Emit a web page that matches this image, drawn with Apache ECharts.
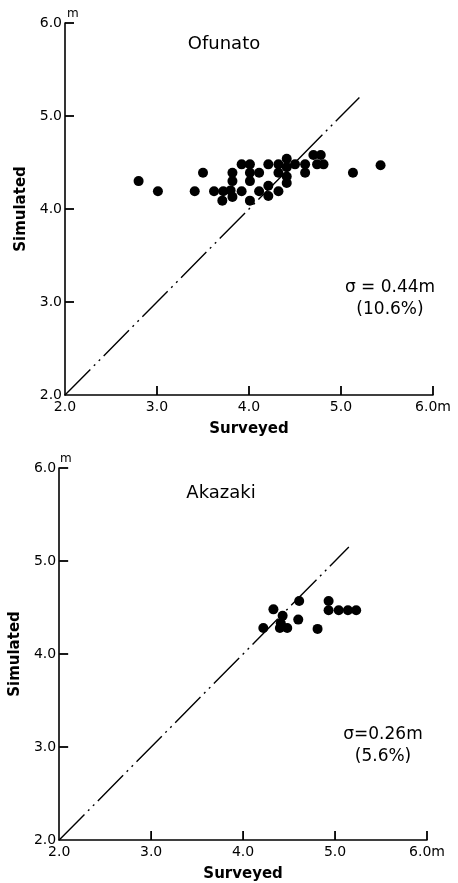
<!DOCTYPE html>
<html>
<head>
<meta charset="utf-8">
<script src="https://cdn.jsdelivr.net/npm/echarts@6/dist/echarts.min.js"></script>
<style>
  html, body { margin: 0; padding: 0; background: #fff; }
  #chart { width: 458px; height: 883px; }
</style>
</head>
<body>
<div id="chart"></div>
<script>
// 刻度
const axisTicks = [2, 3, 4, 5, 6];
const tickPx = 9; // 内刻度长度（像素）

// Ofunato  [surveyed, simulated]
const ofunatoPoints = [
  [2.80, 4.30], [3.01, 4.19], [3.41, 4.19], [3.50, 4.39], [3.62, 4.19],
  [3.71, 4.09], [3.72, 4.19], [3.82, 4.39], [3.82, 4.30], [3.80, 4.20],
  [3.82, 4.13], [3.92, 4.19], [3.92, 4.48], [4.01, 4.48], [4.01, 4.39],
  [4.01, 4.30], [4.01, 4.09], [4.11, 4.39], [4.11, 4.19], [4.21, 4.48],
  [4.21, 4.25], [4.21, 4.14], [4.32, 4.48], [4.32, 4.39], [4.32, 4.19],
  [4.41, 4.54], [4.41, 4.45], [4.41, 4.35], [4.41, 4.28], [4.50, 4.48],
  [4.61, 4.48], [4.61, 4.39], [4.70, 4.58], [4.78, 4.58], [4.74, 4.48],
  [4.81, 4.48], [5.13, 4.39], [5.43, 4.47]
];

// Akazaki
const akazakiPoints = [
  [4.22, 4.28], [4.33, 4.48], [4.43, 4.41], [4.41, 4.33], [4.40, 4.28],
  [4.48, 4.28], [4.61, 4.57], [4.60, 4.37], [4.81, 4.27], [4.93, 4.57],
  [4.93, 4.47], [5.04, 4.47], [5.14, 4.47], [5.23, 4.47]
];

// 1:1 线
const ofunatoLine = [[2, 2], [5.2, 5.2]];
const akazakiLine = [[2, 2], [5.15, 5.15]];

const font = 'DejaVu Sans';
const dashDotDot = [36, 5, 2, 5, 2, 5];

function xAxisOf(idx) {
  return {
    gridIndex: idx, type: 'value', min: 2, max: 6, interval: 1,
    name: 'Surveyed', nameLocation: 'middle', nameGap: 27,
    nameTextStyle: { fontFamily: font, fontSize: 15, fontWeight: 'bold', color: '#000' },
    axisLine: { show: true, lineStyle: { color: '#000', width: 1.6 } },
    axisTick: { show: false },
    axisLabel: {
      color: '#000', fontFamily: font, fontSize: 14, margin: 5,
      formatter: v => v === 6 ? '6.0m' : v.toFixed(1)
    },
    splitLine: { show: false }
  };
}
function yAxisOf(idx) {
  return {
    gridIndex: idx, type: 'value', min: 2, max: 6, interval: 1,
    name: 'Simulated', nameLocation: 'middle', nameGap: 34,
    nameTextStyle: { fontFamily: font, fontSize: 15, fontWeight: 'bold', color: '#000' },
    axisLine: { show: true, lineStyle: { color: '#000', width: 1.6 } },
    axisTick: { show: false },
    axisLabel: {
      color: '#000', fontFamily: font, fontSize: 14, margin: 3,
      formatter: v => v.toFixed(1)
    },
    splitLine: { show: false }
  };
}

// 朝内的刻度线：custom 系列，位置由坐标轴换算
const tickData = [];
axisTicks.slice(1).forEach(t => {
  tickData.push([t, axisTicks[0], 0]); // x 轴刻度
  tickData.push([axisTicks[0], t, 1]); // y 轴刻度
});
function tickSeries(idx) {
  return {
    type: 'custom', xAxisIndex: idx, yAxisIndex: idx, data: tickData,
    silent: true, clip: false, z: 10,
    renderItem: (params, api) => {
      const p = api.coord([api.value(0), api.value(1)]);
      const vertical = api.value(2) === 0;
      return {
        type: 'line',
        shape: vertical
          ? { x1: p[0], y1: p[1], x2: p[0], y2: p[1] - tickPx }
          : { x1: p[0], y1: p[1], x2: p[0] + tickPx, y2: p[1] },
        style: { stroke: '#000', lineWidth: 1.8 }
      };
    }
  };
}

const chart = echarts.init(document.getElementById('chart'));
chart.setOption({
  backgroundColor: '#fff',
  animation: false,
  title: [
    { text: 'Ofunato', left: 219, top: 30, textAlign: 'center',
      textStyle: { fontFamily: font, fontSize: 18, fontWeight: 'normal', color: '#000' } },
    { text: 'Akazaki', left: 216, top: 479, textAlign: 'center',
      textStyle: { fontFamily: font, fontSize: 18, fontWeight: 'normal', color: '#000' } },
    { text: 'σ = 0.44m\n(10.6%)', left: 385, top: 272, textAlign: 'center',
      textStyle: { fontFamily: font, fontSize: 17, fontWeight: 'normal', color: '#000', lineHeight: 22 } },
    { text: 'σ=0.26m\n(5.6%)', left: 378, top: 719, textAlign: 'center',
      textStyle: { fontFamily: font, fontSize: 17, fontWeight: 'normal', color: '#000', lineHeight: 22 } },
    { text: 'm', left: 62, top: 3,
      textStyle: { fontFamily: font, fontSize: 12, fontWeight: 'normal', color: '#000' } },
    { text: 'm', left: 55, top: 448,
      textStyle: { fontFamily: font, fontSize: 12, fontWeight: 'normal', color: '#000' } }
  ],
  grid: [
    { left: 65, top: 23, width: 368, height: 372 },
    { left: 58, top: 468, width: 369, height: 372 }
  ],
  xAxis: [xAxisOf(0), xAxisOf(1)],
  yAxis: [yAxisOf(0), yAxisOf(1)],
  series: [
    { type: 'line', xAxisIndex: 0, yAxisIndex: 0, data: ofunatoLine, showSymbol: false,
      lineStyle: { color: '#000', width: 1.4, type: dashDotDot } },
    { type: 'scatter', xAxisIndex: 0, yAxisIndex: 0, data: ofunatoPoints,
      symbolSize: 10, itemStyle: { color: '#000', opacity: 1 } },
    { type: 'line', xAxisIndex: 1, yAxisIndex: 1, data: akazakiLine, showSymbol: false,
      lineStyle: { color: '#000', width: 1.4, type: dashDotDot } },
    { type: 'scatter', xAxisIndex: 1, yAxisIndex: 1, data: akazakiPoints,
      symbolSize: 10, itemStyle: { color: '#000', opacity: 1 } },
    tickSeries(0),
    tickSeries(1)
  ]
});
</script>
</body>
</html>
